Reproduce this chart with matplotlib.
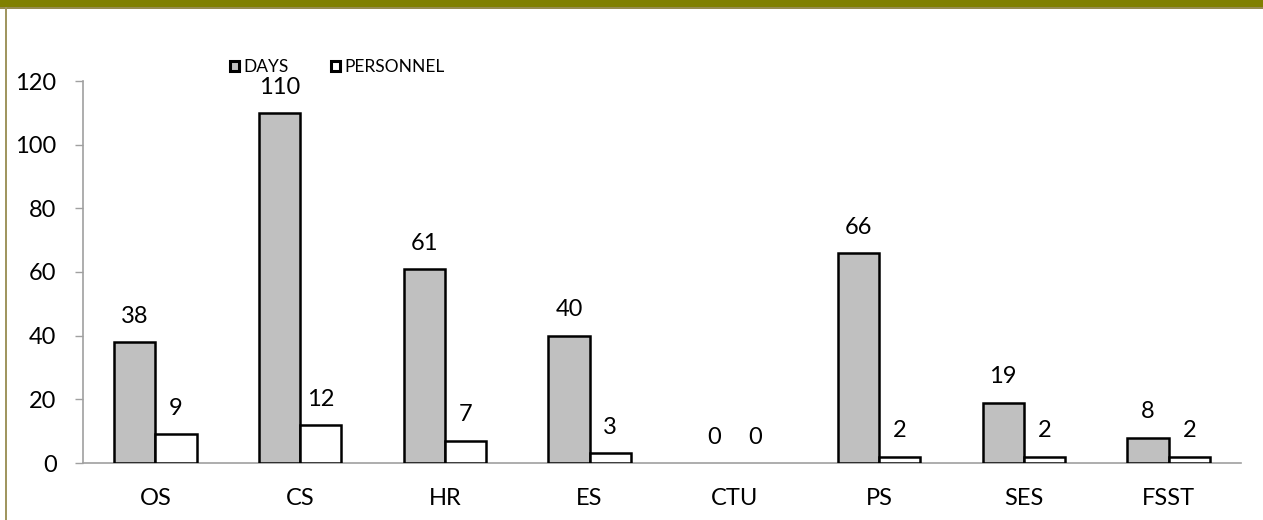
import matplotlib
matplotlib.use("Agg")
import matplotlib.pyplot as plt
import numpy as np
from matplotlib.patches import Rectangle

categories = ["OS", "CS", "HR", "ES", "CTU", "PS", "SES", "FSST"]
days = [38, 110, 61, 40, 0, 66, 19, 8]
personnel = [9, 12, 7, 3, 0, 2, 2, 2]
yticks = [0, 20, 40, 60, 80, 100, 120]

plt.rcParams['font.family'] = ['Lato', 'DejaVu Sans']

W, H = 1263, 520
fig = plt.figure(figsize=(W / 100, H / 100), dpi=100)

# frame decoration
fig.patches.append(Rectangle((0, (H - 7) / H), 1, 7 / H, transform=fig.transFigure,
                             facecolor="#808000", edgecolor="none", zorder=0))
fig.patches.append(Rectangle((0, (H - 9) / H), 1, 2 / H, transform=fig.transFigure,
                             facecolor="#968c50", edgecolor="none", zorder=0))
fig.patches.append(Rectangle((5 / W, 0), 2 / W, (H - 7) / H, transform=fig.transFigure,
                             facecolor="#a09660", edgecolor="none", zorder=0))

left, right = 83 / W, 1241 / W
bottom, top = (H - 463) / H, (H - 81) / H
ax = fig.add_axes([left, bottom, right - left, top - bottom])

x = np.arange(len(categories))
bw = 0.285
b1 = ax.bar(x - bw / 2, days, bw, color="#c0c0c0", edgecolor="black", linewidth=1.8,
            label="DAYS", zorder=3)
b2 = ax.bar(x + bw / 2, personnel, bw, color="white", edgecolor="black", linewidth=1.8,
            label="PERSONNEL", zorder=3)

for bars, vals in ((b1, days), (b2, personnel)):
    for r, v in zip(bars, vals):
        if v == 0:
            r.set_linewidth(0)
        ax.annotate(str(v), (r.get_x() + r.get_width() / 2, v), xytext=(0, 11),
                    textcoords="offset points", ha="center", va="bottom", fontsize=17)

ax.set_xlim(-0.5, len(categories) - 0.5)
ax.set_ylim(0, 120)
ax.set_yticks(yticks)
ax.set_xticks(x)
ax.set_xticklabels(categories)
ax.tick_params(axis="y", length=6, width=1, color="#a0a0a0", labelsize=17, pad=13)
ax.tick_params(axis="x", length=0, labelsize=17, pad=18)
for s in ("top", "right"):
    ax.spines[s].set_visible(False)
for s in ("left", "bottom"):
    ax.spines[s].set_color("#a0a0a0")
    ax.spines[s].set_linewidth(1.2)

leg = ax.legend(loc="upper left", bbox_to_anchor=(140 / (1241 - 83), 1.075), ncol=2,
                frameon=False, fontsize=12.5, handlelength=0.55, handleheight=0.55,
                handletextpad=0.25, columnspacing=2.4, borderaxespad=0)
for h in leg.legend_handles:
    h.set_linewidth(2.2)

fig.savefig("out.png", dpi=100, facecolor="white")
